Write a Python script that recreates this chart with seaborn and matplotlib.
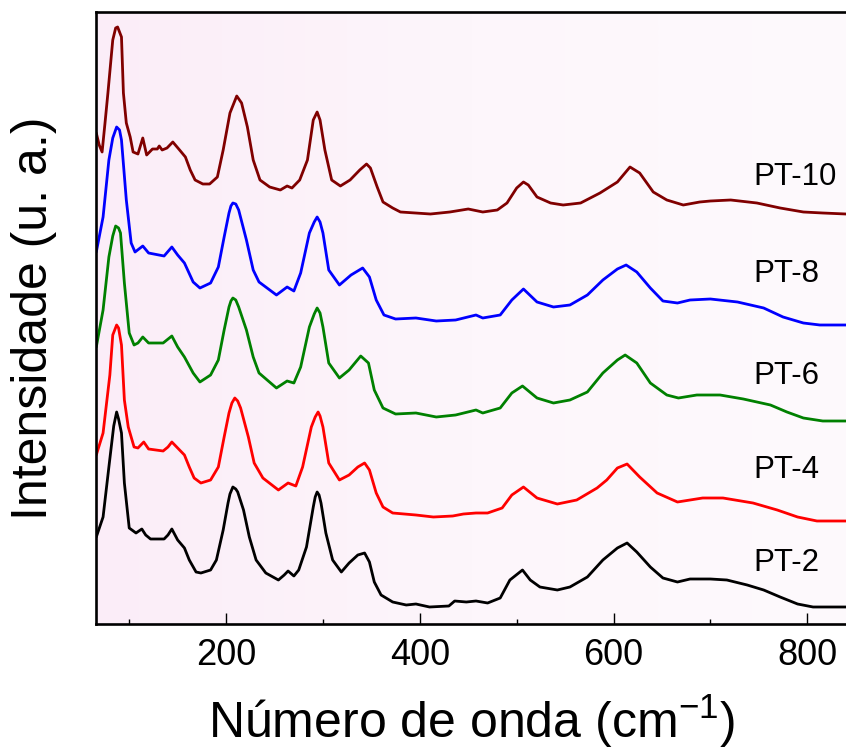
import numpy as np
import pandas as pd
import matplotlib
matplotlib.use('Agg')
import matplotlib.pyplot as plt
from matplotlib.colors import LinearSegmentedColormap
from matplotlib.ticker import MultipleLocator
import seaborn as sns

# ---------------- data (wavenumber in cm-1, intensity in arbitrary units, offsets included) -------------
samples = ['PT-2', 'PT-4', 'PT-6', 'PT-8', 'PT-10']
colors = ['#000000', '#ff0000', '#008000', '#0000ff', '#800000']

pt2_w = [66, 73, 79, 84, 87, 89, 92, 95, 100, 107, 113, 117, 122, 136, 140, 144, 150, 157, 162, 169, 174, 184,
         190, 197, 202, 204, 207, 210, 212, 218, 224, 231, 241, 254, 260, 264, 270, 275, 283, 290, 292, 294,
         296, 298, 303, 310, 319, 327, 336, 343, 348, 353, 360, 372, 386, 396, 410, 430, 436, 448, 458, 470,
         483, 493, 506, 514, 524, 542, 555, 573, 589, 604, 614, 624, 638, 651, 666, 679, 700, 717, 738, 755,
         772, 790, 806, 840]
pt2_i = [87, 107, 157, 198, 212, 205, 191, 141, 96, 91, 95, 89, 85, 85, 89, 95, 84, 76, 64, 52, 51, 54,
         64, 94, 121, 130, 137, 135, 132, 114, 87, 64, 51, 44, 49, 53, 48, 54, 77, 117, 127, 132,
         129, 121, 91, 64, 52, 61, 69, 71, 62, 42, 29, 22, 19, 20, 17, 18, 23, 22, 23, 21,
         26, 44, 54, 44, 37, 34, 37, 47, 64, 76, 81, 72, 57, 46, 42, 45, 45, 44, 39, 34,
         27, 20, 17, 17]

pt4_w = [66, 73, 80, 83, 87, 89, 92, 95, 99, 105, 109, 115, 120, 135, 140, 144, 150, 157, 162, 167, 174,
         184, 192, 198, 203, 206, 209, 212, 215, 223, 229, 238, 254, 264, 272, 279, 288, 292, 295, 297, 300,
         306, 317, 327, 336, 343, 348, 355, 362, 372, 396, 414, 434, 445, 458, 470, 485, 495, 507, 521, 542,
         562, 583, 593, 604, 614, 627, 645, 666, 692, 713, 744, 769, 790, 810, 840]
pt4_i = [169, 191, 249, 289, 299, 296, 279, 224, 197, 177, 176, 182, 175, 173, 177, 182, 176, 169, 157, 146, 141,
         144, 157, 187, 211, 221, 226, 223, 216, 187, 161, 146, 134, 141, 138, 157, 197, 207, 212, 208, 197,
         161, 144, 149, 157, 161, 154, 131, 117, 111, 109, 107, 108, 110, 111, 111, 116, 129, 137, 126, 120,
         124, 136, 144, 156, 160, 147, 131, 122, 126, 126, 121, 114, 107, 103, 103]

pt6_w = [66, 73, 79, 83, 86, 89, 91, 95, 100, 105, 109, 114, 120, 135, 144, 150, 157, 166, 173, 184, 192, 198,
         203, 205, 207, 210, 213, 221, 228, 234, 252, 263, 270, 277, 286, 291, 294, 297, 300, 306, 317, 327,
         339, 347, 353, 362, 375, 396, 417, 437, 458, 465, 483, 495, 506, 521, 538, 555, 573, 589, 604, 612,
         624, 638, 655, 667, 686, 710, 734, 762, 779, 796, 816, 840]
pt6_i = [277, 314, 367, 388, 398, 396, 391, 341, 291, 279, 281, 287, 281, 281, 288, 277, 267, 251, 242, 249, 264, 294,
         317, 323, 326, 324, 317, 294, 267, 251, 236, 243, 241, 257, 297, 310, 316, 311, 297, 261, 246, 254,
         268, 261, 234, 216, 210, 211, 207, 209, 214, 211, 216, 231, 238, 226, 221, 224, 232, 251, 264, 269,
         261, 241, 229, 226, 229, 229, 225, 219, 212, 206, 203, 203]

pt8_w = [66, 73, 79, 83, 87, 90, 92, 97, 102, 106, 114, 120, 136, 144, 150, 157, 166, 173, 184, 192, 198, 203,
         205, 207, 210, 213, 221, 228, 234, 252, 263, 270, 277, 286, 291, 294, 297, 300, 306, 317, 329, 341,
         348, 355, 363, 375, 396, 417, 437, 458, 465, 483, 495, 507, 521, 538, 555, 573, 589, 604, 613, 624,
         638, 651, 666, 679, 700, 728, 755, 775, 796, 813, 840]
pt8_i = [372, 407, 464, 486, 497, 494, 484, 424, 381, 372, 378, 371, 368, 377, 369, 361, 342, 336, 341, 357, 387, 411,
         418, 421, 420, 414, 384, 354, 342, 329, 337, 333, 351, 391, 402, 407, 402, 391, 354, 339, 349, 356,
         347, 324, 309, 305, 306, 303, 304, 309, 306, 309, 324, 335, 322, 317, 319, 329, 344, 355, 359, 352,
         336, 323, 321, 324, 325, 322, 316, 307, 301, 299, 299]

pt10_w = [66, 69, 72, 75, 78, 83, 86, 88, 92, 94, 97, 101, 104, 109, 114, 118, 124, 129, 131, 134,
          139, 145, 152, 158, 163, 168, 176, 183, 191, 197, 204, 211, 216, 222, 228, 235, 245, 256, 263,
          268, 276, 284, 290, 294, 297, 302, 309, 318, 328, 338, 345, 349, 356, 362, 372, 380, 411, 431,
          450, 465, 480, 490, 500, 507, 512, 521, 535, 548, 566, 586, 604, 617, 627, 641, 655, 672, 689,
          700, 721, 748, 772, 796, 816, 840]
pt10_i = [491, 479, 472, 501, 531, 584, 596, 597, 587, 531, 501, 487, 472, 470, 486, 469, 475, 475, 478, 474,
          476, 482, 474, 467, 454, 444, 440, 440, 447, 474, 511, 528, 521, 497, 464, 444, 437, 434, 438,
          436, 444, 464, 504, 512, 504, 474, 444, 438, 444, 454, 460, 456, 437, 422, 416, 412, 410, 412,
          415, 412, 414, 421, 436, 442, 439, 427, 421, 419, 421, 431, 442, 457, 451, 432, 424, 419, 422,
          423, 424, 421, 416, 412, 411, 410]

series_w = [pt2_w, pt4_w, pt6_w, pt8_w, pt10_w]
series_i = [pt2_i, pt4_i, pt6_i, pt8_i, pt10_i]

xticks_major = [200, 400, 600, 800]
xlabel = r'Número de onda (cm$^{-1}$)'
ylabel = 'Intensidade (u. a.)'

# ---------------- build table ----------------
frames = []
for name, w, i in zip(samples, series_w, series_i):
    frames.append(pd.DataFrame({'w': w, 'I': i, 'sample': name}))
df = pd.concat(frames, ignore_index=True)

# ---------------- style ----------------
sns.set_style('ticks')
plt.rcParams['font.family'] = ['Liberation Sans', 'DejaVu Sans']
plt.rcParams['mathtext.fontset'] = 'custom'
plt.rcParams['mathtext.rm'] = 'Liberation Sans'
plt.rcParams['mathtext.it'] = 'Liberation Sans:italic'
plt.rcParams['mathtext.bf'] = 'Liberation Sans:bold'
plt.rcParams['text.color'] = 'black'
plt.rcParams['axes.labelcolor'] = 'black'
plt.rcParams['xtick.color'] = 'black'
plt.rcParams['ytick.color'] = 'black'
plt.rcParams['xtick.labelcolor'] = 'black'

fig = plt.figure(figsize=(8.46, 7.51), dpi=100)
ax = fig.add_axes([96 / 846, (751 - 624) / 751, 750 / 846, 612 / 751])

xlim = (65.7, 840.0)
ylim = (0, 612)

# background gradient (light pink -> near white)
cmap = LinearSegmentedColormap.from_list('bg', ['#fbedf8', '#fdf6fb', '#fefafd'])
ax.imshow(np.linspace(0, 1, 256).reshape(1, -1), cmap=cmap, aspect='auto',
          extent=(xlim[0], xlim[1], ylim[0], ylim[1]), zorder=0, interpolation='bilinear')

sns.lineplot(data=df, x='w', y='I', hue='sample', hue_order=samples,
             palette=dict(zip(samples, colors)), estimator=None, sort=False,
             linewidth=2.0, legend=False, ax=ax, zorder=2)

ax.set_xlim(*xlim)
ax.set_ylim(*ylim)

# sample labels
label_y = [53, 146, 240, 342, 439]
for name, y in zip(samples, label_y):
    ax.text(744, y, name, fontsize=22.5, ha='left', va='baseline', color='black')

ax.set_xticks(xticks_major)
ax.xaxis.set_minor_locator(MultipleLocator(100))
ax.set_yticks([])
ax.tick_params(axis='x', which='major', direction='in', length=8, width=1.0,
               labelsize=26, pad=10, top=False, colors='black')
ax.tick_params(axis='x', which='minor', direction='in', length=3.6, width=1.0, top=False, colors='black')

for side in ['left', 'bottom', 'top']:
    ax.spines[side].set_linewidth(1.9)
    ax.spines[side].set_color('black')
ax.spines['right'].set_visible(False)

ax.set_xlabel(xlabel, fontsize=36, labelpad=14, color='black')
ax.set_ylabel(ylabel, fontsize=36, labelpad=28, color='black')

fig.savefig('out.png', dpi=100)
